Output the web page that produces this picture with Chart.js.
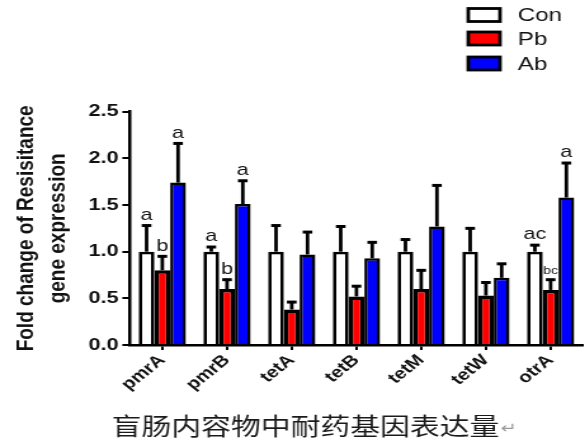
<!DOCTYPE html>
<html>
<head>
<meta charset="utf-8">
<script src="https://cdn.jsdelivr.net/npm/chart.js@4.4.1/dist/chart.umd.min.js"></script>
<style>
  html, body { margin: 0; padding: 0; background: #fff; overflow: hidden; }
  /* the figure is laid out on a narrower canvas and widened horizontally */
  #wrap { position: absolute; left: 0; top: 0; width: 461px; height: 448px;
          transform: scaleX(1.269); transform-origin: 0 0; }
</style>
</head>
<body>
<div id="wrap"><canvas id="c"></canvas></div>
<script>
// Resistance genes measured in caecal contents
const genes = ['pmrA', 'pmrB', 'tetA', 'tetB', 'tetM', 'tetW', 'otrA'];

// Group means (fold change) and upper error (SEM)
const conMean = [1.00, 1.00, 1.00, 1.00, 1.00, 1.00, 1.00];
const conErr  = [0.28, 0.05, 0.28, 0.27, 0.13, 0.25, 0.07];
const pbMean  = [0.80, 0.60, 0.38, 0.52, 0.60, 0.53, 0.59];
const pbErr   = [0.15, 0.10, 0.08, 0.11, 0.20, 0.14, 0.11];
const abMean  = [1.74, 1.51, 0.97, 0.93, 1.27, 0.72, 1.58];
const abErr   = [0.42, 0.25, 0.24, 0.17, 0.44, 0.15, 0.37];

// Significance letters above each bar
const conLetters = ['a', 'a', '', '', '', '', 'ac'];
const pbLetters  = ['b', 'b', '', '', '', '', 'bc'];
const abLetters  = ['a', 'a', '', '', '', '', 'a'];

const yTicks = [0, 0.5, 1.0, 1.5, 2.0, 2.5];
const yTitle = ['Fold change of Resisitance', 'gene expression'];
const caption = '盲肠内容物中耐药基因表达量';
const returnMark = '↵';

const ARIAL = '"Liberation Sans", Arial, sans-serif';

// Upward error bars plus significance letters
const errorBars = {
  id: 'errorBars',
  afterDatasetsDraw(chart) {
    const ctx = chart.ctx;
    const y = chart.scales.y;
    chart.data.datasets.forEach((ds, i) => {
      const meta = chart.getDatasetMeta(i);
      meta.data.forEach((bar, j) => {
        const top = y.getPixelForValue(ds.data[j]);
        const tip = y.getPixelForValue(ds.data[j] + ds.errors[j]);
        ctx.save();
        ctx.strokeStyle = '#000';
        ctx.lineCap = 'butt';
        ctx.lineWidth = 2.8;
        ctx.beginPath();
        ctx.moveTo(bar.x, top);
        ctx.lineTo(bar.x, tip);
        ctx.stroke();
        ctx.lineWidth = 3;
        ctx.beginPath();
        ctx.moveTo(bar.x - 3.8, tip);
        ctx.lineTo(bar.x + 3.8, tip);
        ctx.stroke();
        const letter = ds.letters[j];
        if (letter) {
          ctx.fillStyle = '#111';
          ctx.textAlign = 'center';
          ctx.textBaseline = 'bottom';
          ctx.font = (letter === 'bc' ? '11px ' : '17px ') + ARIAL;
          ctx.fillText(letter, bar.x, tip - (letter === 'bc' ? 3 : 2));
        }
        ctx.restore();
      });
    });
  }
};

// Legend boxes at the top right, and the caption under the chart
const decorations = {
  id: 'decorations',
  afterDraw(chart) {
    const ctx = chart.ctx;
    const rows = [15, 38.5, 63.5];
    ctx.save();
    chart.data.datasets.forEach((ds, i) => {
      const cy = rows[i];
      ctx.fillStyle = ds.backgroundColor;
      ctx.fillRect(369, cy - 6.5, 25, 13);
      ctx.strokeStyle = '#000';
      ctx.lineWidth = 2.8;
      ctx.strokeRect(369, cy - 6.5, 25, 13);
      ctx.fillStyle = '#111';
      ctx.font = '19px ' + ARIAL;
      ctx.textAlign = 'left';
      ctx.textBaseline = 'middle';
      ctx.fillText(ds.label, 408, cy + 1);
    });
    ctx.font = '23.5px "Noto Sans CJK SC", sans-serif';
    ctx.fillStyle = '#1a1a1a';
    ctx.textAlign = 'left';
    ctx.textBaseline = 'middle';
    ctx.fillText(caption, 88, 426);
    const w = ctx.measureText(caption).width;
    ctx.font = '15px "DejaVu Sans", sans-serif';
    ctx.fillStyle = '#9a9a9a';
    ctx.fillText(returnMark, 88 + w + 1, 429);
    ctx.restore();
  }
};

new Chart(document.getElementById('c'), {
  type: 'bar',
  data: {
    labels: genes,
    datasets: [
      { label: 'Con', data: conMean, errors: conErr, letters: conLetters,
        backgroundColor: '#ffffff', borderColor: '#000', borderWidth: 2.8 },
      { label: 'Pb', data: pbMean, errors: pbErr, letters: pbLetters,
        backgroundColor: '#ff0000', borderColor: '#000', borderWidth: 3.5 },
      { label: 'Ab', data: abMean, errors: abErr, letters: abLetters,
        backgroundColor: '#0000ff', borderColor: '#000', borderWidth: 2.5 }
    ]
  },
  options: {
    responsive: true,
    maintainAspectRatio: false,
    animation: false,
    datasets: { bar: { categoryPercentage: 0.73, barPercentage: 1.0, borderSkipped: 'start' } },
    layout: { padding: { top: 111.7, right: 1.6, left: 0, bottom: 0 } },
    plugins: { legend: { display: false }, tooltip: { enabled: false } },
    scales: {
      x: {
        grid: { offset: false, drawOnChartArea: false, drawTicks: true, tickLength: 5,
                color: '#000', lineWidth: 2 },
        border: { display: true, color: '#000', width: 2.5 },
        ticks: { color: '#111', minRotation: 45, maxRotation: 45, padding: 1,
                 font: { family: ARIAL, size: 16, weight: 'bold' } },
        afterFit(s) { s.height = 103; }
      },
      y: {
        min: 0, max: 2.5,
        afterBuildTicks(s) { s.ticks = yTicks.map(v => ({ value: v })); },
        grid: { drawOnChartArea: false, drawTicks: true, tickLength: 6,
                color: '#000', lineWidth: 2 },
        border: { display: true, color: '#000', width: 2.5 },
        ticks: { color: '#111', padding: 3,
                 font: { family: ARIAL, size: 17, weight: 'bold' },
                 callback: v => Number(v).toFixed(1) },
        title: { display: true, text: yTitle, color: '#111',
                 font: { family: ARIAL, size: 19, weight: 'bold', lineHeight: 1.28 },
                 padding: { top: 9, bottom: 0 } },
        afterFit(s) { s.width = 102.4; }
      }
    }
  },
  plugins: [errorBars, decorations]
});
</script>
</body>
</html>
